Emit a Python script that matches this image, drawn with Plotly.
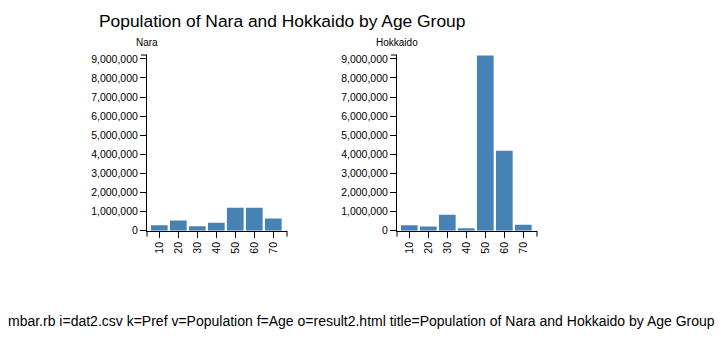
import plotly.graph_objects as go

ages = ["10", "20", "30", "40", "50", "60", "70"]
nara = [290000, 540000, 235000, 425000, 1210000, 1210000, 645000]
hokkaido = [290000, 220000, 835000, 135000, 9170000, 4190000, 320000]
prefs = ["Nara", "Hokkaido"]
title = "Population of Nara and Hokkaido by Age Group"
footer = "mbar.rb i=dat2.csv k=Pref v=Population f=Age o=result2.html title=Population of Nara and Hokkaido by Age Group"

W, H = 727, 341
color = "#4682b4"
font = "Liberation Sans, Arial, sans-serif"

x0s = [147, 397]
plot_w = 140
y_zero = 234.3
y_top = 54.3
ymax = 9.2e6

fig = go.Figure()
for i, vals in enumerate([nara, hokkaido]):
    xa = "x" if i == 0 else "x2"
    ya = "y" if i == 0 else "y2"
    fig.add_trace(go.Bar(x=ages, y=vals, marker_color=color, marker_line_width=0,
                         xaxis=xa, yaxis=ya, showlegend=False, hoverinfo="x+y"))

common_x = dict(showgrid=False, showline=True, linecolor="black", linewidth=1,
                ticks="outside", ticklen=6, tickcolor="black", tickangle=-90,
                tickfont=dict(family=font, size=10.5, color="black"), zeroline=False,
                range=[-0.647, 6.721], fixedrange=True)
common_y = dict(showgrid=False, showline=True, linecolor="black", linewidth=1,
                ticks="outside", ticklen=6, tickcolor="black", tickformat=",",
                dtick=1e6, tick0=0, range=[0, ymax],
                tickfont=dict(family=font, size=10.5, color="black"), zeroline=False,
                fixedrange=True)

yd = [1 - y_zero / H, 1 - y_top / H]
fig.update_layout(
    width=W, height=H, margin=dict(l=0, r=0, t=0, b=0),
    paper_bgcolor="white", plot_bgcolor="white", bargap=0.12,
    xaxis=dict(domain=[x0s[0] / W, (x0s[0] + plot_w) / W], anchor="y", **common_x),
    yaxis=dict(domain=yd, anchor="x", **common_y),
    xaxis2=dict(domain=[x0s[1] / W, (x0s[1] + plot_w) / W], anchor="y2", **common_x),
    yaxis2=dict(domain=yd, anchor="x2", **common_y),
)

annotations = [
    dict(text=title, x=282 / W, y=1 - 19 / H, xref="paper", yref="paper",
         showarrow=False, font=dict(family=font, size=17.4, color="black"),
         xanchor="center", yanchor="middle"),
    dict(text=footer, x=361.3 / W, y=1 - 327 / H, xref="paper", yref="paper",
         showarrow=False, font=dict(family=font, size=14, color="black"),
         xanchor="center", yanchor="middle"),
]
for i, p in enumerate(prefs):
    annotations.append(dict(text=p, x=x0s[i] / W, y=1 - 41.5 / H, xref="paper", yref="paper",
                            showarrow=False, font=dict(family=font, size=10, color="black"),
                            xanchor="center", yanchor="middle"))
fig.update_layout(annotations=annotations)

# d3-style outer ticks at domain ends
shapes = []
for x0 in x0s:
    shapes.append(dict(type="line", xref="paper", yref="paper",
                       x0=(x0 - 6) / W, x1=x0 / W, y0=1 - y_top / H, y1=1 - y_top / H,
                       line=dict(color="black", width=1)))
    for xe in (x0, x0 + plot_w):
        shapes.append(dict(type="line", xref="paper", yref="paper",
                           x0=xe / W, x1=xe / W, y0=1 - y_zero / H, y1=1 - (y_zero + 6) / H,
                           line=dict(color="black", width=1)))
fig.update_layout(shapes=shapes)

fig.write_html("out.html")
